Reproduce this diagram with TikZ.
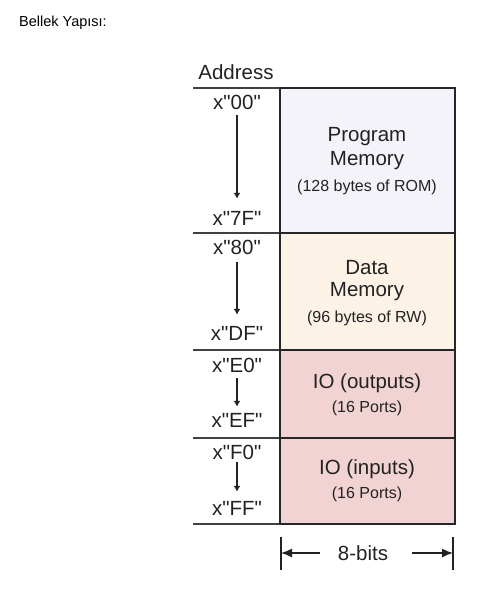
\documentclass[tikz,border=0pt]{standalone}
\usepackage{fontspec}
\setmainfont{Liberation Sans}[Ligatures=TeXOff]
\usetikzlibrary{arrows.meta, positioning}
\definecolor{progfill}{HTML}{F4F3FA}
\definecolor{datafill}{HTML}{FDF2E6}
\definecolor{iofill}{HTML}{F2D3D3}
\definecolor{inkgray}{HTML}{222222}
\tikzset{
	big/.style={font=\fontsize{20.5}{24}\selectfont, text=inkgray, inner sep=1pt},
	small/.style={font=\fontsize{16}{19}\selectfont, text=inkgray, inner sep=1pt},
	seg/.style={draw=black!85, line width=2pt},
	rowline/.style={draw=black!75, line width=1.2pt},
	addrarrow/.style={-{Latex[length=6pt,width=7pt]}, draw=inkgray, line width=1.3pt, shorten <=5pt, shorten >=8pt},
	dimarrow/.style={-{Latex[length=11pt,width=9pt]}, draw=inkgray, line width=1.4pt}
}
\begin{document}
\begin{tikzpicture}[x=1pt, y=-1pt]
	\useasboundingbox (0,0) rectangle (481,590);
	\node[font=\fontsize{14.5}{17}\selectfont, anchor=west, inner sep=0pt] (title) at (19,23) {Bellek Yapısı:};
	\node[big] (addr) at (236,72) {Address};

	% address rows
	\draw[rowline] (193,88) -- (280,88);
	\draw[rowline] (193,233) -- (280,233);
	\draw[rowline] (193,350) -- (280,350);
	\draw[rowline] (193,438) -- (280,438);
	\draw[rowline] (193,524) -- (280,524);

	% memory blocks
	\draw[seg, fill=progfill] (280,88) rectangle (455,233);
	\draw[seg, fill=datafill] (280,233) rectangle (455,350);
	\draw[seg, fill=iofill] (280,350) rectangle (455,438);
	\draw[seg, fill=iofill] (280,438) rectangle (455,524);

	\node[big] (prog) at (367,137) {Program};
	\node[big] (progmem) at (367,161) {Memory};
	\node[small] (progsize) at (367,187) {(128 bytes of ROM)};

	\node[big] (data) at (367,268) {Data};
	\node[big] (datamem) at (367,292) {Memory};
	\node[small] (datasize) at (367,318) {(96 bytes of RW)};

	\node[big] (ioout) at (367,383) {IO (outputs)};
	\node[small] (iooutsize) at (367,408) {(16 Ports)};

	\node[big] (ioin) at (367,469) {IO (inputs)};
	\node[small] (ioinsize) at (367,494) {(16 Ports)};

	% addresses
	\node[big] (a00) at (237,102) {x"00"};
	\node[big] (a7F) at (237,218) {x"7F"};
	\node[big] (a80) at (237,247) {x"80"};
	\node[big] (aDF) at (237,333) {x"DF"};
	\node[big] (aE0) at (237,365) {x"E0"};
	\node[big] (aEF) at (237,420) {x"EF"};
	\node[big] (aF0) at (237,452) {x"F0"};
	\node[big] (aFF) at (237,508) {x"FF"};

	\draw[addrarrow, shorten >=11pt] (a00.south) -- (a7F.north);
	\draw[addrarrow, shorten <=7pt, shorten >=10pt] (a80.south) -- (aDF.north);
	\draw[addrarrow, shorten >=5pt] (aE0.south) -- (aEF.north);
	\draw[addrarrow, shorten <=2pt] (aF0.south) -- (aFF.north);

	% width
	\node[big] (bits) at (363,553) {8-bits};
	\coordinate (lbar) at (281,553);
	\coordinate (rbar) at (453,553);
	\draw[inkgray, line width=1.8pt] (281,537) -- (281,570);
	\draw[inkgray, line width=1.8pt] (453,537) -- (453,570);
	\draw[dimarrow, shorten <=17pt] (bits.west) -- (lbar);
	\draw[dimarrow, shorten <=23pt] (bits.east) -- (rbar);
\end{tikzpicture}
\end{document}
